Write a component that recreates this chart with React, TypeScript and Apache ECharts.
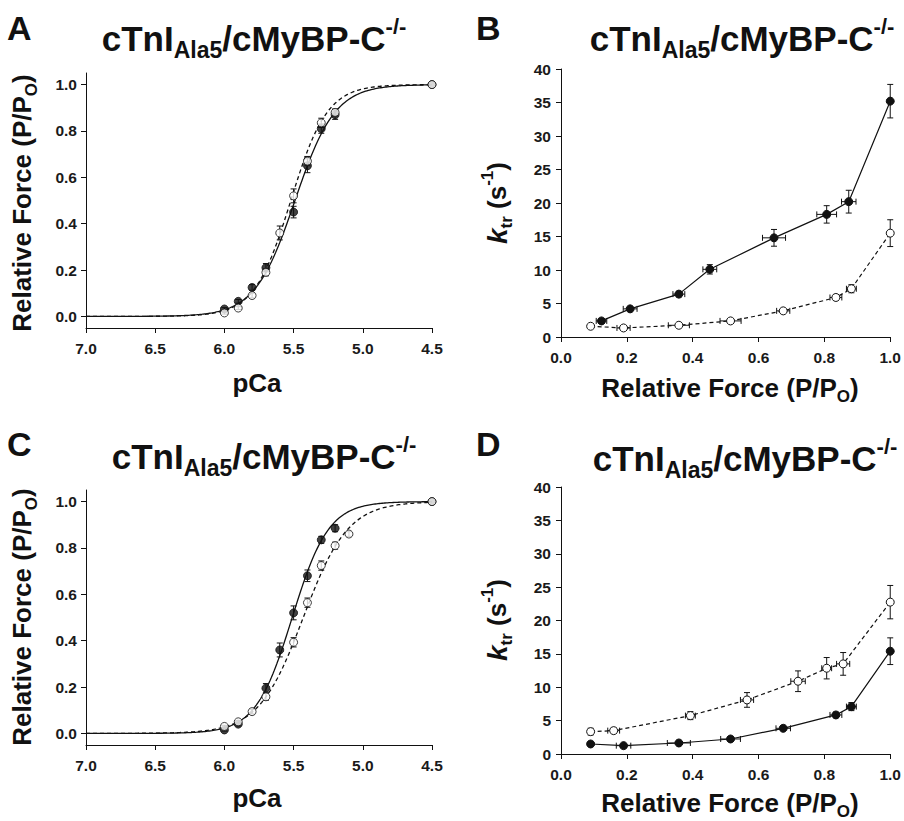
import React, { useEffect, useRef } from "react";
import * as echarts from "echarts";

// ---------- Panel A : force–pCa ----------
const pCaA_filled = [6.0, 5.9, 5.8, 5.7, 5.5, 5.4, 5.3, 5.2, 4.5];
const forceA_filled = [0.032, 0.065, 0.125, 0.21, 0.45, 0.65, 0.81, 0.87, 1.0];
const errA_filled = [0.006, 0.008, 0.012, 0.018, 0.025, 0.03, 0.02, 0.02, 0];
const pCaA_open = [6.0, 5.9, 5.8, 5.7, 5.6, 5.5, 5.4, 5.3, 5.2, 4.5];
const forceA_open = [0.015, 0.036, 0.09, 0.19, 0.36, 0.52, 0.67, 0.835, 0.88, 1.0];
const errA_open = [0.005, 0.006, 0.01, 0.015, 0.03, 0.03, 0.02, 0.02, 0.015, 0];
const hillA_filled = [5.49, 3.0]; // [pCa50, nH] of fitted Hill curve
const hillA_open = [5.52, 3.3];

// ---------- Panel C : force–pCa ----------
const pCaC_filled = [6.0, 5.9, 5.7, 5.6, 5.5, 5.4, 5.3, 5.2, 4.5];
const forceC_filled = [0.015, 0.04, 0.195, 0.36, 0.52, 0.68, 0.835, 0.885, 1.0];
const errC_filled = [0.005, 0.008, 0.02, 0.03, 0.03, 0.025, 0.015, 0.015, 0];
const pCaC_open = [6.0, 5.9, 5.8, 5.7, 5.5, 5.4, 5.3, 5.2, 5.1, 4.5];
const forceC_open = [0.03, 0.05, 0.094, 0.158, 0.393, 0.564, 0.724, 0.81, 0.86, 1.0];
const errC_open = [0.005, 0.006, 0.01, 0.015, 0.02, 0.02, 0.02, 0.015, 0.01, 0];
const hillC_filled = [5.51, 3.3];
const hillC_open = [5.43, 2.7];

// ---------- Panel B : ktr vs relative force ----------
const forceB_filled = [0.123, 0.21, 0.358, 0.452, 0.647, 0.807, 0.874, 1.0];
const ktrB_filled = [2.4, 4.2, 6.4, 10.1, 14.8, 18.3, 20.2, 35.2];
const xerrB_filled = [0.016, 0.021, 0.018, 0.021, 0.035, 0.03, 0.022, 0];
const yerrB_filled = [0.3, 0.3, 0.4, 0.7, 1.25, 1.3, 1.7, 2.5];
const forceB_open = [0.09, 0.19, 0.358, 0.515, 0.675, 0.835, 0.882, 1.0];
const ktrB_open = [1.6, 1.35, 1.75, 2.4, 3.9, 5.9, 7.2, 15.5];
const xerrB_open = [0, 0.02, 0.032, 0.032, 0.02, 0.018, 0.015, 0];
const yerrB_open = [0.2, 0.2, 0.2, 0.2, 0.3, 0.4, 0.6, 2.0];

// ---------- Panel D : ktr vs relative force ----------
const forceD_filled = [0.09, 0.19, 0.358, 0.515, 0.675, 0.835, 0.882, 1.0];
const ktrD_filled = [1.5, 1.25, 1.65, 2.25, 3.85, 5.85, 7.1, 15.4];
const xerrD_filled = [0, 0.022, 0.035, 0.03, 0.022, 0.018, 0.015, 0];
const yerrD_filled = [0.2, 0.2, 0.2, 0.2, 0.3, 0.4, 0.6, 2.0];
const forceD_open = [0.09, 0.16, 0.393, 0.565, 0.72, 0.807, 0.857, 1.0];
const ktrD_open = [3.35, 3.5, 5.75, 8.1, 10.9, 12.85, 13.5, 22.75];
const xerrD_open = [0, 0.018, 0.015, 0.02, 0.022, 0.015, 0.02, 0];
const yerrD_open = [0.5, 0.4, 0.6, 1.1, 1.55, 1.6, 1.7, 2.5];

// tick labels
const forceTicks = [0, 0.2, 0.4, 0.6, 0.8, 1.0];

const FONT = "'Liberation Sans', Arial, Helvetica, sans-serif";
const INK = "#111";

function hillCurve(p: number[]) {
  const pts: number[][] = [];
  for (let i = 0; i <= 250; i++) {
    const pCa = 7.0 - i * 0.01;
    pts.push([pCa, 1 / (1 + Math.pow(10, p[1] * (pCa - p[0])))]);
  }
  return pts;
}

function errSeries(xs: number[], ys: number[], xe: number[] | null, ye: number[], idx: number) {
  return {
    type: "custom",
    xAxisIndex: idx,
    yAxisIndex: idx,
    z: 3,
    silent: true,
    clip: false,
    encode: { x: 0, y: 1 },
    data: xs.map((x, i) => [x, ys[i], xe ? xe[i] : 0, ye[i]]),
    renderItem: (_params: any, api: any) => {
      const x = api.value(0);
      const y = api.value(1);
      const ex = api.value(2);
      const ey = api.value(3);
      const cap = 3;
      const style = { stroke: INK, lineWidth: 1 };
      const children: any[] = [];
      if (ey > 0) {
        const t = api.coord([x, y + ey]);
        const b = api.coord([x, y - ey]);
        children.push({ type: "line", shape: { x1: t[0], y1: t[1], x2: b[0], y2: b[1] }, style });
        children.push({ type: "line", shape: { x1: t[0] - cap, y1: t[1], x2: t[0] + cap, y2: t[1] }, style });
        children.push({ type: "line", shape: { x1: b[0] - cap, y1: b[1], x2: b[0] + cap, y2: b[1] }, style });
      }
      if (ex > 0) {
        const l = api.coord([x - ex, y]);
        const r = api.coord([x + ex, y]);
        children.push({ type: "line", shape: { x1: l[0], y1: l[1], x2: r[0], y2: r[1] }, style });
        children.push({ type: "line", shape: { x1: l[0], y1: l[1] - cap, x2: l[0], y2: l[1] + cap }, style });
        children.push({ type: "line", shape: { x1: r[0], y1: r[1] - cap, x2: r[0], y2: r[1] + cap }, style });
      }
      return { type: "group", children };
    },
  };
}

function points(xs: number[], ys: number[], idx: number, filled: boolean, line: "solid" | "dashed" | null) {
  return {
    type: line ? "line" : "scatter",
    xAxisIndex: idx,
    yAxisIndex: idx,
    z: filled ? 4 : 5,
    symbol: "circle",
    symbolSize: 8,
    showSymbol: true,
    silent: true,
    data: xs.map((x, i) => [x, ys[i]]),
    itemStyle: filled
      ? { color: INK, borderColor: INK, borderWidth: 1 }
      : { color: "#fff", borderColor: INK, borderWidth: 1 },
    lineStyle: line ? { color: INK, width: 1.2, type: line === "dashed" ? [4, 3] : "solid" } : undefined,
  };
}

function curve(p: number[], idx: number, dashed: boolean) {
  return {
    type: "line",
    xAxisIndex: idx,
    yAxisIndex: idx,
    z: 2,
    silent: true,
    showSymbol: false,
    data: hillCurve(p),
    lineStyle: { color: INK, width: 1.3, type: dashed ? [4, 3] : "solid" },
  };
}

const axisCommon = {
  axisLine: { onZero: false, lineStyle: { color: INK, width: 1 } },
  axisTick: { inside: false, length: 5, lineStyle: { color: INK, width: 1 } },
  splitLine: { show: false },
};
const labelCommon = { color: "#1a1a1a", fontFamily: FONT, fontWeight: "bold", fontSize: 15.5 };

function pCaXAxis(idx: number) {
  return {
    gridIndex: idx,
    type: "value",
    inverse: true,
    min: 4.5,
    max: 7.0,
    interval: 0.5,
    ...axisCommon,
    axisLabel: { ...labelCommon, margin: 12, showMaxLabel: true, showMinLabel: true, formatter: (v: number) => v.toFixed(1) },
  };
}
function forceYAxis(idx: number) {
  return {
    gridIndex: idx,
    type: "value",
    min: -0.05,
    max: 1.05,
    ...axisCommon,
    axisTick: { ...axisCommon.axisTick, customValues: forceTicks },
    axisLabel: { ...labelCommon, margin: 9, customValues: forceTicks, formatter: (v: number) => v.toFixed(1) },
  };
}
function forceXAxis(idx: number) {
  return {
    gridIndex: idx,
    type: "value",
    min: 0,
    max: 1,
    interval: 0.2,
    ...axisCommon,
    axisLabel: { ...labelCommon, margin: 12, showMaxLabel: true, formatter: (v: number) => v.toFixed(1) },
  };
}
function ktrYAxis(idx: number) {
  return {
    gridIndex: idx,
    type: "value",
    min: 0,
    max: 40,
    interval: 5,
    ...axisCommon,
    axisLabel: { ...labelCommon, margin: 10 },
  };
}

const richBase = { fontFamily: FONT, fontWeight: "bold", fill: INK };

function title(cx: number, cy: number) {
  return {
    type: "text",
    x: cx,
    y: cy,
    style: {
      text: "{m|cTnI}{s|Ala5}{m|/cMyBP-C}{p|-/-}",
      align: "center",
      verticalAlign: "middle",
      rich: {
        m: { ...richBase, fontSize: 35, lineHeight: 46 },
        s: { ...richBase, fontSize: 23, verticalAlign: "bottom" },
        p: { ...richBase, fontSize: 22, verticalAlign: "top" },
      },
    },
  };
}
function letter(ch: string, x: number, y: number) {
  return {
    type: "text",
    x,
    y,
    style: { text: ch, fontFamily: FONT, fontWeight: "bold", fontSize: 34, fill: INK, align: "left", verticalAlign: "middle" },
  };
}
function xName(kind: "pCa" | "force", cx: number, cy: number) {
  const text = kind === "pCa" ? "{m|pCa}" : "{m|Relative Force (P/P}{s|O}{m|)}";
  return {
    type: "text",
    x: cx,
    y: cy,
    style: {
      text,
      align: "center",
      verticalAlign: "middle",
      rich: {
        m: { ...richBase, fontSize: 26, lineHeight: 34 },
        s: { ...richBase, fontSize: 17, verticalAlign: "bottom" },
      },
    },
  };
}
function yName(kind: "force" | "ktr", cx: number, cy: number) {
  const text = kind === "force" ? "{m|Relative Force (P/P}{s|O}{m|)}" : "{k|k}{s|tr}{m| (s}{p|-1}{m|)}";
  return {
    type: "text",
    x: cx,
    y: cy,
    rotation: Math.PI / 2,
    style: {
      text,
      align: "center",
      verticalAlign: "middle",
      rich: {
        m: { ...richBase, fontSize: 26, lineHeight: 36 },
        k: { ...richBase, fontSize: 28, fontStyle: "italic", lineHeight: 36 },
        s: { ...richBase, fontSize: 17, verticalAlign: "bottom" },
        p: { ...richBase, fontSize: 17, verticalAlign: "top" },
      },
    },
  };
}

export default function App() {
  const ref = useRef<HTMLDivElement>(null);
  useEffect(() => {
    document.body.style.margin = "0";
    if (!ref.current) return;
    const chart = echarts.init(ref.current, null, { renderer: "svg" });
    const option: any = {
      animation: false,
      backgroundColor: "#fff",
      grid: [
        { left: 86, top: 73, width: 346, height: 255 },
        { left: 561, top: 69, width: 333, height: 268 },
        { left: 86, top: 490, width: 346, height: 255 },
        { left: 561, top: 487, width: 333, height: 267 },
      ],
      xAxis: [pCaXAxis(0), forceXAxis(1), pCaXAxis(2), forceXAxis(3)],
      yAxis: [forceYAxis(0), ktrYAxis(1), forceYAxis(2), ktrYAxis(3)],
      series: [
        // A
        curve(hillA_filled, 0, false),
        curve(hillA_open, 0, true),
        errSeries(pCaA_filled, forceA_filled, null, errA_filled, 0),
        errSeries(pCaA_open, forceA_open, null, errA_open, 0),
        points(pCaA_filled, forceA_filled, 0, true, null),
        points(pCaA_open, forceA_open, 0, false, null),
        // B
        errSeries(forceB_filled, ktrB_filled, xerrB_filled, yerrB_filled, 1),
        errSeries(forceB_open, ktrB_open, xerrB_open, yerrB_open, 1),
        points(forceB_filled, ktrB_filled, 1, true, "solid"),
        points(forceB_open, ktrB_open, 1, false, "dashed"),
        // C
        curve(hillC_filled, 2, false),
        curve(hillC_open, 2, true),
        errSeries(pCaC_filled, forceC_filled, null, errC_filled, 2),
        errSeries(pCaC_open, forceC_open, null, errC_open, 2),
        points(pCaC_filled, forceC_filled, 2, true, null),
        points(pCaC_open, forceC_open, 2, false, null),
        // D
        errSeries(forceD_filled, ktrD_filled, xerrD_filled, yerrD_filled, 3),
        errSeries(forceD_open, ktrD_open, xerrD_open, yerrD_open, 3),
        points(forceD_filled, ktrD_filled, 3, true, "solid"),
        points(forceD_open, ktrD_open, 3, false, "dashed"),
      ],
      graphic: [
        letter("A", 7, 28),
        letter("B", 476, 28),
        letter("C", 7, 444),
        letter("D", 476, 444),
        title(254, 38),
        title(742, 38),
        title(264, 456),
        title(745, 458),
        xName("pCa", 257, 383),
        xName("force", 730, 388),
        xName("pCa", 257, 798),
        xName("force", 730, 803),
        yName("force", 22, 203),
        yName("ktr", 497, 203),
        yName("force", 22, 617),
        yName("ktr", 497, 620),
      ],
    };
    chart.setOption(option);
    return () => chart.dispose();
  }, []);
  return <div ref={ref} style={{ width: 904, height: 821, background: "#fff" }} />;
}
